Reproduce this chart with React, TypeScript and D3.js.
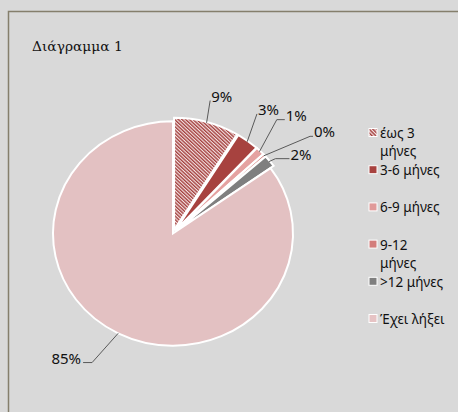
import React, { useEffect, useRef } from 'react'
import * as d3 from 'd3'

// data (percent of total)
const categories = ['έως 3 μήνες', '3-6 μήνες', '6-9 μήνες', '9-12 μήνες', '>12 μήνες', 'Έχει λήξει']
const legendLines = [['έως 3', 'μήνες'], ['3-6 μήνες'], ['6-9 μήνες'], ['9-12', 'μήνες'], ['>12 μήνες'], ['Έχει λήξει']]
const values = [8.8, 3.0, 1.2, 0.4, 1.7, 84.9]
const colors = ['url(#hatch)', '#a7423f', '#e5a2a1', '#d37d7b', '#7f7f7f', '#e3c1c2']
const swatchColors = ['url(#hatch)', '#a7423f', '#e09a99', '#d37d7b', '#7f7f7f', '#e6c3c4']

// label layout: leader end radius, angle nudge (deg), horizontal hook
const labelLayout = [
  { r: 147, da: -1.2, hook: 0 },
  { r: 153, da: -3.8, hook: 0 },
  { r: 160, da: -4.2, hook: 8 },
  { r: 172, da: 5.3, hook: 3 },
  { r: 130, da: 0.7, hook: 14 },
  { r: 160, da: 3.2, hook: -9 },
]

const W = 458
const H = 412

export default function App() {
  const svgRef = useRef<SVGSVGElement>(null)

  useEffect(() => {
    if (!svgRef.current) return
    const svg = d3.select(svgRef.current)
    svg.selectAll('*').remove()

    const defs = svg.append('defs')
    const pat = defs.append('pattern').attr('id', 'hatch').attr('patternUnits', 'userSpaceOnUse')
      .attr('width', 2.6).attr('height', 2.6).attr('patternTransform', 'rotate(-45)')
    pat.append('rect').attr('width', 2.6).attr('height', 2.6).attr('fill', '#f3e1e1')
    pat.append('rect').attr('width', 1.4).attr('height', 2.6).attr('fill', '#a4403e')

    svg.append('rect').attr('width', W).attr('height', H).attr('fill', '#d9d9d9')
    svg.append('path').attr('d', `M8.5,${H} V11.5 H${W}`).attr('fill', 'none')
      .attr('stroke', '#857f6c').attr('stroke-width', 1.5)

    svg.append('text').attr('x', 32).attr('y', 51)
      .attr('font-family', 'DejaVu Serif').attr('font-size', 13.8).attr('fill', '#111')
      .text('Διάγραμμα 1')

    const cx = 173
    const cy = 233.5
    const r = 120
    const ky = 0.935
    const explode = 4

    const pie = d3.pie<number>().sort(null).value(d => d)
    const arcs = pie(values)
    const arc = d3.arc<d3.PieArcDatum<number>>().innerRadius(0).outerRadius(r)
    const pt = (a: number, rad: number): [number, number] => [cx + Math.sin(a) * rad, cy - Math.cos(a) * rad * ky]

    const g = svg.append('g').attr('transform', `translate(${cx},${cy}) scale(1,${ky})`)
    g.selectAll('path.slice')
      .data(arcs)
      .enter()
      .append('path')
      .attr('class', 'slice')
      .attr('d', arc)
      .attr('transform', (d, i) => {
        if (i === values.length - 1) return ''
        const m = (d.startAngle + d.endAngle) / 2
        return `translate(${Math.sin(m) * explode},${-Math.cos(m) * explode})`
      })
      .attr('fill', (d, i) => colors[i])
      .attr('stroke', '#fff')
      .attr('stroke-width', 2)
      .attr('vector-effect', 'non-scaling-stroke')

    // leader lines + labels
    const lab = svg.append('g').attr('font-family', 'Noto Sans').attr('font-size', 15).attr('fill', '#111')
    arcs.forEach((d, i) => {
      const m = (d.startAngle + d.endAngle) / 2
      const L = labelLayout[i]
      const p0 = pt(m, r + (i === values.length - 1 ? 0 : explode - 1))
      const p1 = pt(m + (L.da * Math.PI) / 180, L.r)
      const p2: [number, number] = [p1[0] + L.hook, p1[1]]
      lab.append('path').attr('d', d3.line()([p0, p1, p2]))
        .attr('fill', 'none').attr('stroke', '#595959').attr('stroke-width', 1)
      const left = L.hook < 0
      lab.append('text')
        .attr('x', p2[0] + (left ? -2 : 1))
        .attr('y', p2[1] + 1)
        .attr('text-anchor', left ? 'end' : 'start')
        .text(`${Math.round(d.data)}%`)
    })

    // legend
    const ly = d3.scaleLinear().domain([0, categories.length - 1]).range([133, 319])
    const leg = svg.append('g').attr('font-family', 'Noto Sans').attr('font-size', 13.5).attr('fill', '#111')
    categories.forEach((c, i) => {
      const y = ly(i)
      leg.append('rect').attr('x', 369).attr('y', y - 4.5).attr('width', 8).attr('height', 8)
        .attr('fill', swatchColors[i]).attr('stroke', '#fff').attr('stroke-width', 1)
      legendLines[i].forEach((t, j) => {
        leg.append('text').attr('x', 380).attr('y', y + 5 + j * 18).text(t)
      })
    })
  }, [])

  return (
    <svg ref={svgRef} width={W} height={H}
      style={{ position: 'absolute', left: 0, top: 0, display: 'block' }} />
  )
}
